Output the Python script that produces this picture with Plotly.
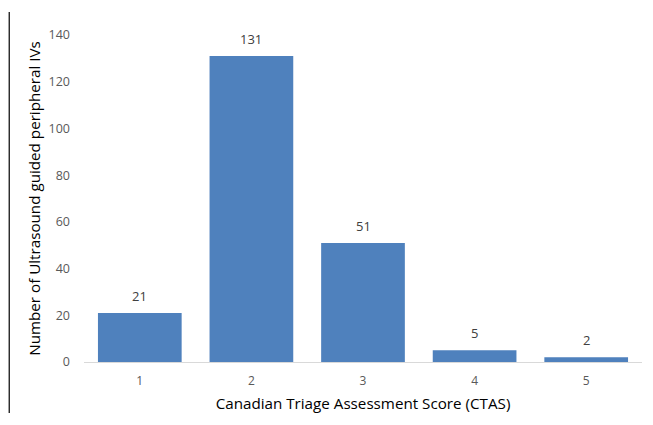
import plotly.graph_objects as go

ctas_scores = [1, 2, 3, 4, 5]
iv_counts = [21, 131, 51, 5, 2]

fig = go.Figure()
fig.add_trace(go.Bar(
    x=ctas_scores, y=iv_counts, width=0.75,
    marker=dict(color="#4F81BD", line=dict(width=0)),
))
for s, v in zip(ctas_scores, iv_counts):
    fig.add_annotation(x=s, y=v, text=str(v), showarrow=False, yanchor="bottom",
                       yshift=6, font=dict(size=13, color="#404040", family="Open Sans"))

fig.update_layout(
    width=645, height=417,
    margin=dict(l=76, r=11, t=27, b=63),
    paper_bgcolor="white", plot_bgcolor="white",
    showlegend=False,
    font=dict(family="Open Sans", color="#595959"),
)
fig.update_xaxes(
    range=[0.5, 5.5], tickvals=ctas_scores, showline=True, linecolor="#D9D9D9",
    linewidth=1, showgrid=False, zeroline=False, ticks="",
    tickfont=dict(size=12, color="#595959"), ticklabelstandoff=8, automargin=False,
    title=dict(text="Canadian Triage Assessment Score (CTAS)",
               font=dict(size=15.2, color="#000000"), standoff=9),
)
fig.update_yaxes(
    range=[0, 140], dtick=20, showgrid=False, showline=False, zeroline=False,
    ticks="", tickfont=dict(size=12.5, color="#595959"), ticklabelstandoff=13,
    automargin=False,
    title=dict(text="Number of Ultrasound guided peripheral IVs",
               font=dict(size=15.2, color="#000000"), standoff=4),
)
fig.add_shape(type="line", xref="paper", yref="paper",
              x0=-0.134, x1=-0.134, y0=1.07, y1=-0.156,
              line=dict(color="black", width=1.2))

fig.write_html("out.html")
